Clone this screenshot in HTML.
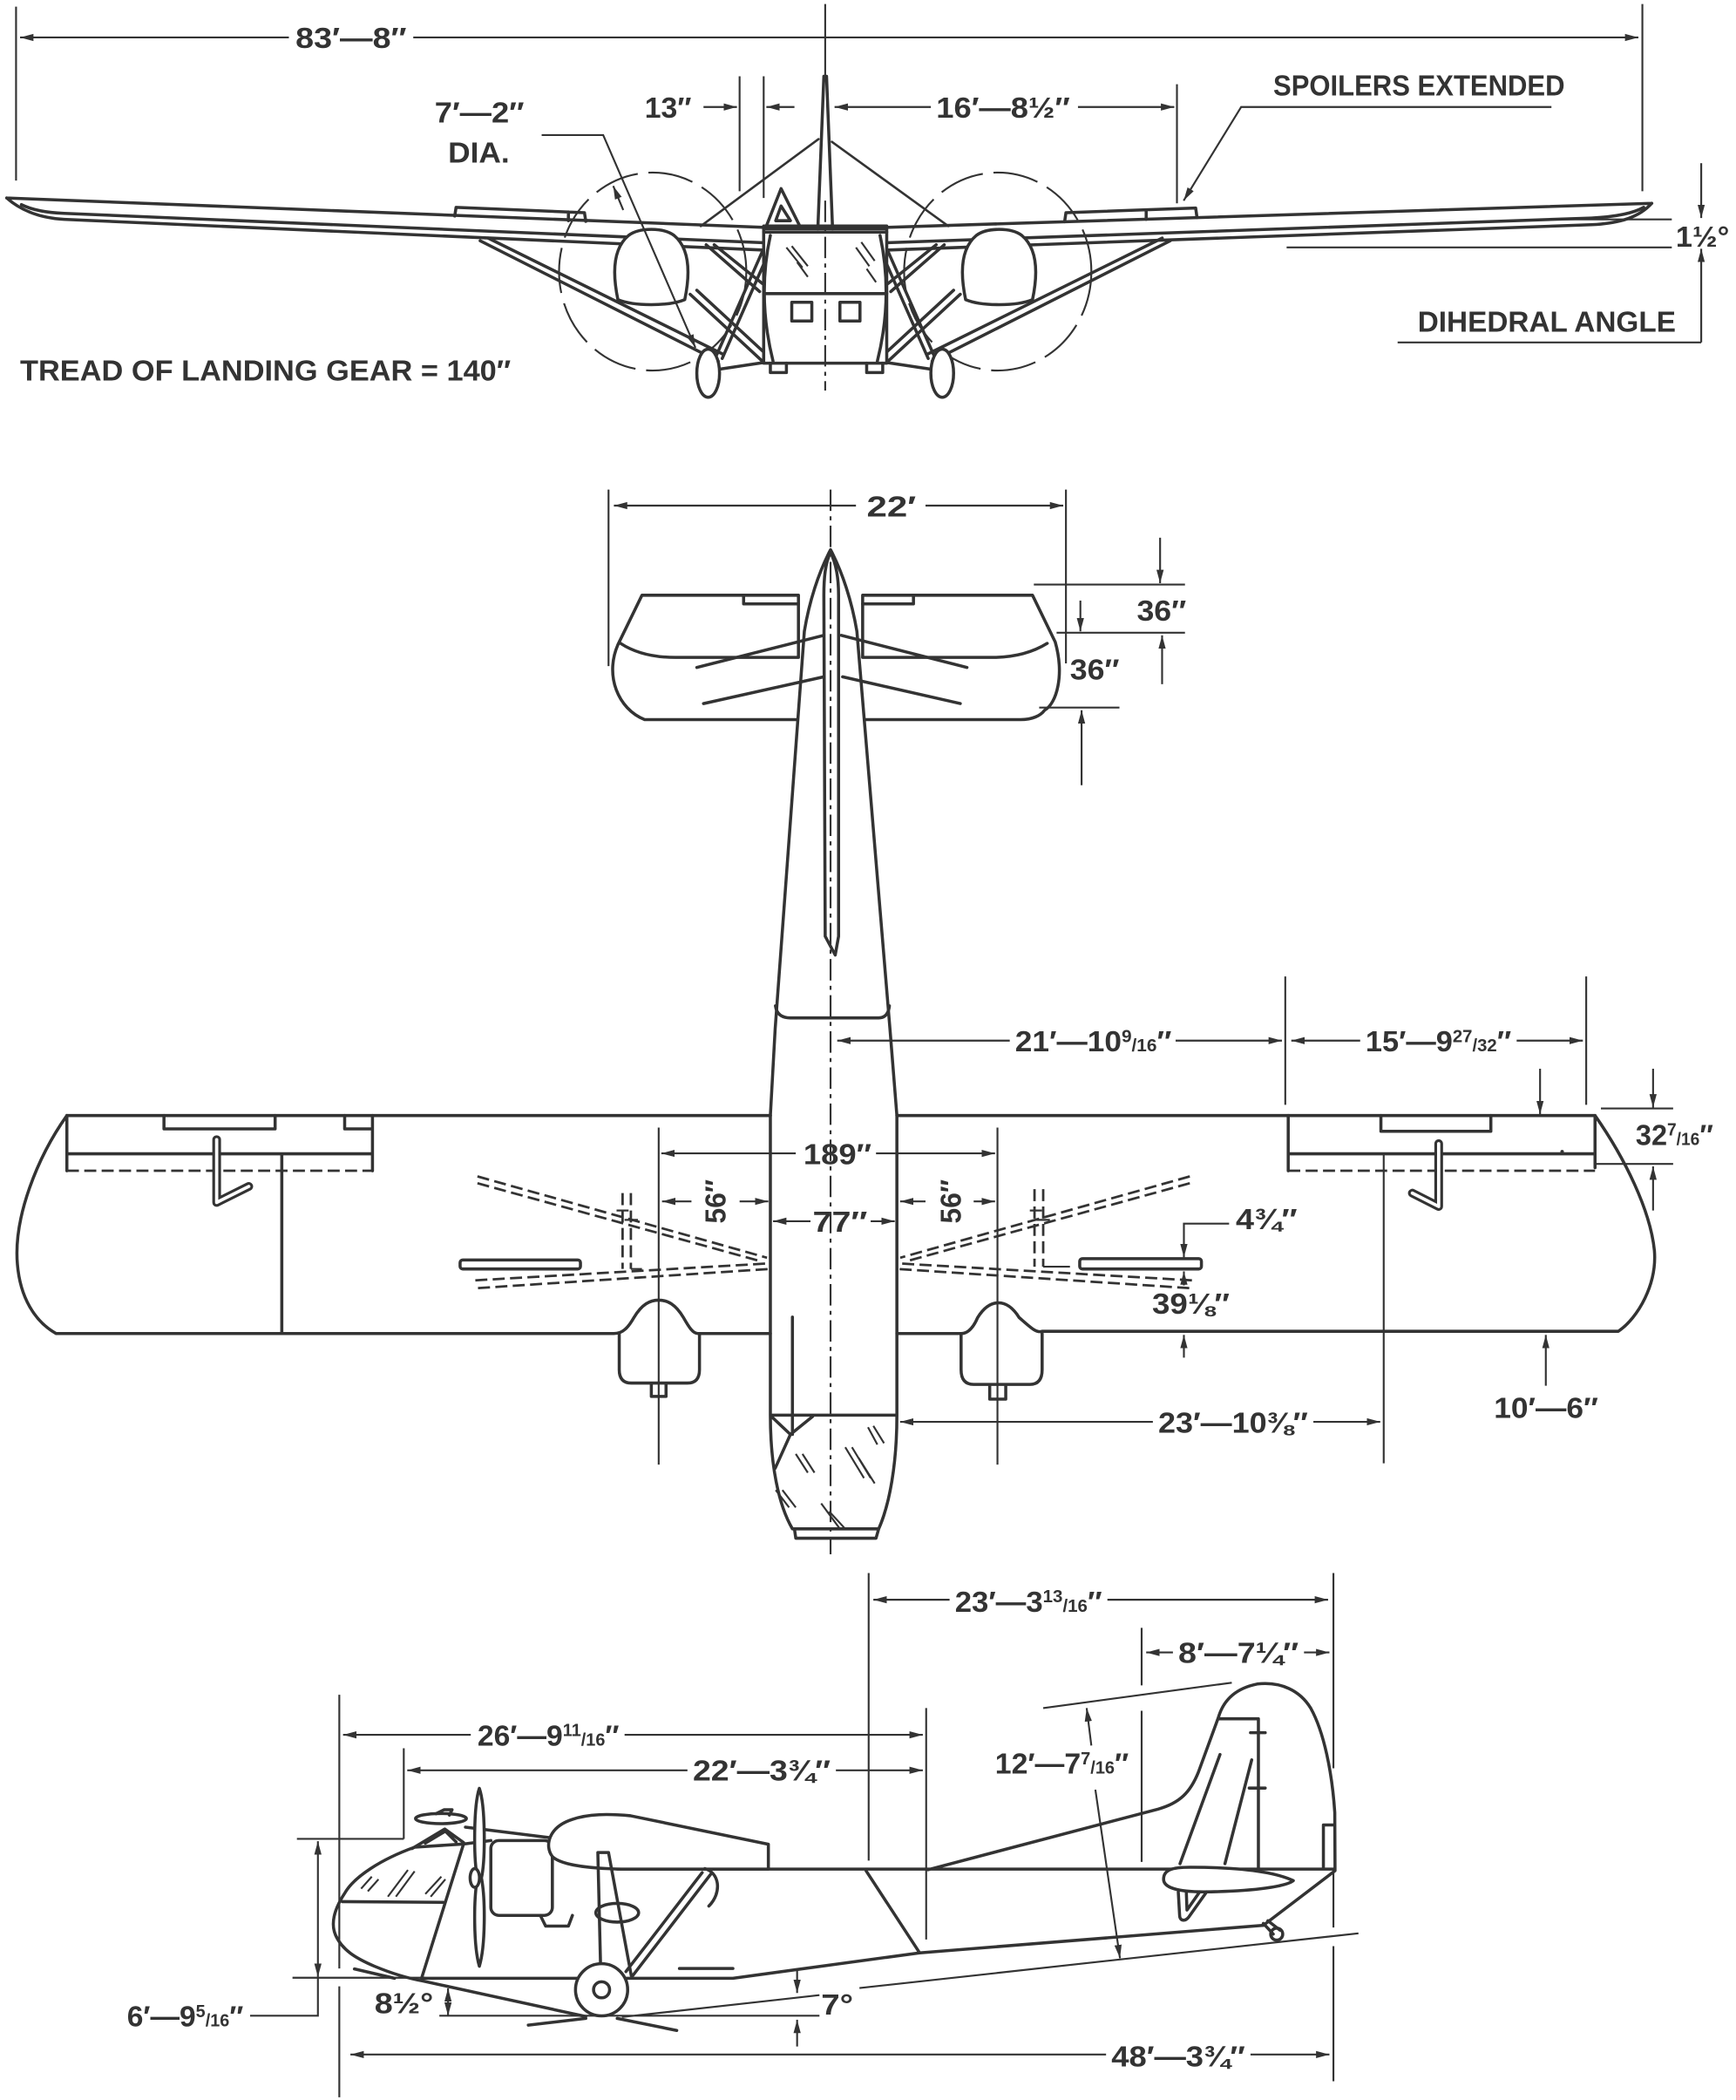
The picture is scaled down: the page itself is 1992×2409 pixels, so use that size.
<!DOCTYPE html>
<html>
<head>
<meta charset="utf-8">
<style>
html,body{margin:0;padding:0;background:#fff;}
svg{display:block;}
</style>
</head>
<body>
<svg xmlns="http://www.w3.org/2000/svg" width="1992" height="2409" viewBox="0 0 1298 1570" preserveAspectRatio="none">
<defs>
<marker id="a" markerUnits="userSpaceOnUse" markerWidth="10" markerHeight="6" viewBox="0 0 10 6" refX="10" refY="3" orient="auto">
<path d="M0,0.3 L10,3 L0,5.7 Z" fill="#333"/>
</marker>
<style>
.o{fill:none;stroke:#333;stroke-width:2.3;stroke-linecap:round;stroke-linejoin:round}
.w{fill:#fff;stroke:#333;stroke-width:2.3;stroke-linejoin:round}
.d{fill:none;stroke:#333;stroke-width:1.4}
.ar{fill:none;stroke:#333;stroke-width:1.4;marker-end:url(#a)}
.ds{fill:none;stroke:#333;stroke-width:1.8;stroke-dasharray:9 4}
.cl{fill:none;stroke:#333;stroke-width:1.4;stroke-dasharray:16 4 3 4}
.pc{fill:none;stroke:#333;stroke-width:1.4;stroke-dasharray:34 8}
.hk{fill:none;stroke:#333;stroke-width:6.5;stroke-linecap:round;stroke-linejoin:round}
.hw{fill:none;stroke:#fff;stroke-width:2.4;stroke-linecap:round;stroke-linejoin:round}
text{font-family:"Liberation Sans Narrow","Liberation Sans","DejaVu Sans",sans-serif;font-weight:bold;font-size:22px;fill:#333}
.f{font-size:13px}
</style>
</defs>

<!-- ================= FRONT VIEW ================= -->
<path class="d" d="M12,5V135M1228,3V143M617,3V58"/>
<path class="ar" d="M216,28H15"/>
<path class="ar" d="M309,28H1225"/>
<text x="221" y="36" textLength="83" lengthAdjust="spacingAndGlyphs">83′—8″</text>

<path class="d" d="M553,57V143M571,57V148"/>
<path class="ar" d="M526,80H551"/>
<path class="ar" d="M594,80H573"/>
<text x="482" y="88" textLength="35" lengthAdjust="spacingAndGlyphs">13″</text>

<path class="ar" d="M696,80H624"/>
<path class="ar" d="M806,80H878"/>
<path class="d" d="M880,63V152"/>
<text x="700" y="88" textLength="100" lengthAdjust="spacingAndGlyphs">16′—8½″</text>

<text x="952" y="71.5" textLength="218" lengthAdjust="spacingAndGlyphs">SPOILERS EXTENDED</text>
<path class="ar" d="M1160,80H928L885,150"/>

<text x="325" y="91.5" textLength="67" lengthAdjust="spacingAndGlyphs">7′—2″</text>
<text x="335" y="121.5" textLength="46" lengthAdjust="spacingAndGlyphs">DIA.</text>

<ellipse class="pc" cx="488" cy="203" rx="70" ry="74"/>
<ellipse class="pc" cx="746" cy="203" rx="70" ry="74"/>

<!-- wings front -->
<path class="o" d="M5,148L572,170M16,153C24,157 34,159 48,159.5L572,181.5M5,148C14,156 28,163 48,164L572,187"/>
<path class="o" d="M662,170L1235,152M662,181.5L1190,163C1210,162 1222,159 1229,155M662,187L1190,168C1212,167 1226,162 1235,152"/>
<path class="o" d="M340,161.5L341,155L437,159L438,165.5M425,158.5V165"/>
<path class="o" d="M796,165.8L797,159L894,155.5L895,162.7M857,157V164"/>

<!-- dihedral -->
<path class="d" d="M1160,164H1250M962,185H1250M1045,256H1272"/>
<path class="ar" d="M1272,122V163"/>
<path class="ar" d="M1272,256V186"/>
<text x="1253" y="184.5" textLength="40" lengthAdjust="spacingAndGlyphs">1½°</text>
<text x="1060" y="248" textLength="193" lengthAdjust="spacingAndGlyphs">DIHEDRAL ANGLE</text>

<!-- struts front -->
<path class="o" d="M365,178L541,265M359,180L537,270M516,220L570,270M521,217L573,265M570,188L536,265M573,193L540,268M528,183L568,218M534,183L570,212M538,276L571,271"/>
<path class="o" d="M869,178L693,265M875,180L697,270M718,220L664,270M713,217L661,265M664,188L698,265M661,193L694,268M706,183L666,218M700,183L664,212M696,276L663,271"/>

<!-- nacelles front -->
<path class="w" d="M462,224C458,205 458,186 470,176C478,170 496,170 504,176C516,186 516,205 512,224C500,229 474,229 462,224Z"/>
<path class="w" d="M772,224C776,205 776,186 764,176C756,170 738,170 730,176C718,186 718,205 722,224C734,229 760,229 772,224Z"/>

<!-- fuselage front -->
<path class="w" d="M571,171H663V271.5H571Z"/>
<path class="o" d="M571,169H663M571,173.5H663M571,219.5H663M576,176Q566,222 578,270M658,176Q668,222 656,270"/>
<rect class="o" x="592" y="226" width="15" height="14"/>
<rect class="o" x="628" y="226" width="15" height="14"/>
<path class="o" d="M576,271.5V278.5H588V271.5M648,271.5V278.5H660V271.5"/>
<path class="d" d="M588,185L600,200M592,184L604,199M596,196L604,207M644,181L654,195M640,185L650,199M648,201L655,211"/>
<path class="o" d="M573,169L584,141L598,169M580,165L584,154L591,165Z"/>
<path class="o" d="M611.5,171L616,57L618,57L622.5,171"/>
<path class="o" style="stroke-width:1.7" d="M612,104L524,169M622,106L709,169"/>
<path class="cl" d="M617,150V292"/>

<ellipse class="w" cx="529.5" cy="279" rx="8.5" ry="18"/>
<ellipse class="w" cx="704.5" cy="279" rx="8.5" ry="18"/>

<!-- 7'2 DIA leader -->
<path class="ar" d="M405,101H451L520,260"/>
<path class="ar" d="M466,157L458.5,139"/>

<text x="15" y="284.5" textLength="367" lengthAdjust="spacingAndGlyphs">TREAD OF LANDING GEAR = 140″</text>

<!-- ================= PLAN VIEW ================= -->
<path class="d" d="M455,366V498M797,366V496"/>
<path class="ar" d="M640,378H459"/>
<path class="ar" d="M692,378H795"/>
<text x="648" y="386" textLength="37" lengthAdjust="spacingAndGlyphs">22′</text>

<path class="cl" d="M621,366V1162"/>

<!-- stabilizer -->
<path class="o" d="M597,491V445H480L462,482C452,505 462,530 482,538H596"/>
<path class="o" d="M645,491V445H772L789,480C796,505 790,526 781,531C778,535 772,538 763,538H647"/>
<path class="o" d="M464,481Q480,491.5 505,491.5H597M783,481Q766,491.5 742,491.5H645"/>
<path class="o" d="M556,445V451.5H597M645,451.5H683V445"/>
<path class="o" d="M616,475L521,499M616,506L526,526M629,475L723,499M630,506L718,526"/>

<!-- 36 dims -->
<path class="d" d="M773,437H886M790,473H886M777,529H837"/>
<path class="ar" d="M867.4,402V436"/>
<path class="ar" d="M807.8,449V472"/>
<path class="ar" d="M868.9,511.5V475"/>
<path class="ar" d="M808.7,587V531"/>
<text x="850" y="464" textLength="37" lengthAdjust="spacingAndGlyphs">36″</text>
<text x="800" y="508" textLength="37" lengthAdjust="spacingAndGlyphs">36″</text>

<!-- boom -->
<path class="o" d="M621,411C612,428 605,450 601.4,472L579.6,769L576,834M621,411C630,428 637,450 640.7,472L665.4,769L670.6,834"/>
<path class="o" d="M579.8,752Q581,761 591,761H657Q664,761 665,752"/>
<path class="o" d="M621,413C617,421 616,432 616,445L617,700L624.5,714L627,700L627,445C627,432 625,421 621,413Z"/>

<!-- left wing plan -->
<path class="o" d="M50,834H576M50,834C28,865 10,910 13,945C15,970 26,988 42,997H459C466,997 470,992 474,985C480,975 486,972 492.5,972C499,972 505,975 511,985C515,992 518,997 522,997H576"/>
<path class="o" d="M50,834V875.3M50,862.6H278.5M278.5,834V875.3M122.6,834V844H205.7V834M257.7,834V844H278.5M210.7,862.6V997"/>
<path class="ds" d="M50,875.3H278.5"/>
<path class="hk" d="M162,852V899L186,887"/>
<path class="hw" d="M162,852V899L186,887"/>
<rect class="o" x="344" y="942" width="90" height="6.7" rx="2"/>
<path class="ds" d="M357,879.5L573.5,940.3M357,884.6L569.4,943.1M355.4,957.2L575.6,944.5M357.4,963L575.6,948.7M465.5,892V948.7M471.7,892V948.7"/>
<path class="d" d="M461,905H470M467,912H477M471.7,948.7H480"/>
<path class="o" d="M463,997V1024Q463,1034 472,1034H514Q523,1034 523,1024V997M487,1034V1044H498V1034"/>

<!-- right wing plan -->
<path class="o" d="M670.6,834H1192.6C1215,866 1234,905 1237,935C1239,960 1225,985 1210,995.3H779.2C775,997 770,992 762,985C757,977 752,974 746.5,974C741,974 736,977 731,985C728,992 724,997 718.6,997H670.6"/>
<path class="o" d="M963.2,834V875.3M963.2,862.6H1192.6M1192.6,834V873M1032.5,834V845.8H1114.7V834"/>
<path class="ds" d="M963.2,875.3H1192.6"/>
<circle cx="1168" cy="861" r="1.3" fill="#333"/>
<path class="hk" d="M1075.7,855V902L1056,892"/>
<path class="hw" d="M1075.7,855V902L1056,892"/>
<rect class="o" x="807.3" y="941" width="91" height="7.7" rx="2"/>
<path class="ds" d="M889.6,879.5L673.1,940.3M889.6,884.6L677.2,943.1M891.2,957.2L671,944.5M889.2,963L671,948.7M773.5,889V947M780,889V947"/>
<path class="d" d="M780,947H800M770,905H779M775,912H785"/>
<path class="o" d="M718.6,997V1024Q718.6,1035 728,1035H770Q779.2,1035 779.2,1024V997M740,1035V1046H752V1035"/>

<!-- ext lines plan -->
<path class="d" d="M492.5,843V1095M745.8,843V1095M1034.6,862.6V1094M961,730V826M1186,730V826"/>

<!-- fuselage plan -->
<path class="o" d="M576,834V1058C576,1095 582,1125 592.5,1143H657C665,1125 670.6,1095 670.6,1058V834M576,1058H670.6M594,1143L595,1150H655L657,1143M576.8,1059L591,1072.4L607.6,1059M591,1072.4L579.6,1097.7M592.5,984.7V1072.4"/>
<path class="d" d="M649,1067L656,1080M653,1066L661,1079M595,1087L604,1101M600,1087L609,1101M632,1082L646,1105M637,1082L651,1105M642,1090L654,1109M580,1114L590,1127M585,1114L595,1127M614,1124L628,1143M620,1130L632,1143"/>

<!-- plan dims -->
<path class="ar" d="M755,778H626"/>
<path class="ar" d="M879,778H958.5"/>
<text x="759" y="786" textLength="117" lengthAdjust="spacingAndGlyphs">21′—10<tspan class="f" dy="-7">9</tspan><tspan class="f" dy="7">/16</tspan>″</text>
<path class="ar" d="M1017,778H965.5"/>
<path class="ar" d="M1134,778H1183.5"/>
<text x="1021" y="786" textLength="109" lengthAdjust="spacingAndGlyphs">15′—9<tspan class="f" dy="-7">27</tspan><tspan class="f" dy="7">/32</tspan>″</text>

<path class="ar" d="M1151.5,799V833"/>
<path class="ar" d="M1236,799V828"/>
<path class="ar" d="M1236,905V872"/>
<path class="d" d="M1197,828.7H1251M1192.6,870.2H1251"/>
<text x="1223" y="856" textLength="58" lengthAdjust="spacingAndGlyphs">32<tspan class="f" dy="-7">7</tspan><tspan class="f" dy="7">/16</tspan>″</text>

<path class="ar" d="M595,862.3H494.5"/>
<path class="ar" d="M655,862.3H744"/>
<text x="600.7" y="870.3" textLength="51" lengthAdjust="spacingAndGlyphs">189″</text>

<path class="ar" d="M517,898.2H495"/>
<path class="ar" d="M553,898.2H574.5"/>
<path class="ar" d="M692,898.2H673"/>
<path class="ar" d="M728,898.2H744"/>
<text transform="translate(542.5,898.2) rotate(-90)" text-anchor="middle" textLength="33" lengthAdjust="spacingAndGlyphs">56″</text>
<text transform="translate(718.5,898.2) rotate(-90)" text-anchor="middle" textLength="33" lengthAdjust="spacingAndGlyphs">56″</text>

<path class="ar" d="M606,913H578"/>
<path class="ar" d="M651,913H669"/>
<text x="607.6" y="921" textLength="41" lengthAdjust="spacingAndGlyphs">77″</text>

<path class="ar" d="M919,914.8H885.2V940"/>
<text x="924" y="919" textLength="46" lengthAdjust="spacingAndGlyphs">4¾″</text>
<path class="ar" d="M885.2,961V950.5"/>
<path class="ar" d="M885.2,1015V998"/>
<text x="861.4" y="982" textLength="58" lengthAdjust="spacingAndGlyphs">39⅛″</text>

<path class="ar" d="M1155.8,1036V998"/>
<text x="1117" y="1060" textLength="78" lengthAdjust="spacingAndGlyphs">10′—6″</text>

<path class="ar" d="M862,1063H673"/>
<path class="ar" d="M982,1063H1032"/>
<text x="866" y="1071" textLength="112" lengthAdjust="spacingAndGlyphs">23′—10⅜″</text>

<!-- ================= SIDE VIEW ================= -->
<!-- dims -->
<path class="d" d="M649.5,1176V1391M997,1176V1322M997,1400V1441M997,1455V1556"/>
<path class="ar" d="M710,1196H653"/>
<path class="ar" d="M828,1196H993"/>
<text x="714" y="1205" textLength="110" lengthAdjust="spacingAndGlyphs">23′—3<tspan class="f" dy="-7">13</tspan><tspan class="f" dy="7">/16</tspan>″</text>

<path class="d" d="M853.6,1217V1260M853.6,1279V1392"/>
<path class="ar" d="M877,1235.4H857"/>
<path class="ar" d="M975,1235.4H994"/>
<text x="881" y="1243" textLength="90" lengthAdjust="spacingAndGlyphs">8′—7¼″</text>

<path class="d" d="M253.7,1267V1471.7M253.7,1485V1568M692.5,1277V1450"/>
<path class="ar" d="M352,1297H256.5"/>
<path class="ar" d="M467,1297H690"/>
<text x="357" y="1305" textLength="106" lengthAdjust="spacingAndGlyphs">26′—9<tspan class="f" dy="-7">11</tspan><tspan class="f" dy="7">/16</tspan>″</text>

<path class="d" d="M301.9,1307V1374.8M222,1374.8H301.9"/>
<path class="ar" d="M514,1323.5H304.5"/>
<path class="ar" d="M625,1323.5H690"/>
<text x="518" y="1331" textLength="103" lengthAdjust="spacingAndGlyphs">22′—3¾″</text>

<path class="ar" d="M237.7,1425V1376.5"/>
<path class="ar" d="M237.7,1425V1478"/>
<path class="d" d="M237.7,1478V1507H187M218.7,1478.6H318"/>
<text x="95" y="1515" textLength="87" lengthAdjust="spacingAndGlyphs">6′—9<tspan class="f" dy="-7">5</tspan><tspan class="f" dy="7">/16</tspan>″</text>

<path class="ar" d="M827,1536H262"/>
<path class="ar" d="M935,1536H994"/>
<text x="831" y="1545" textLength="100" lengthAdjust="spacingAndGlyphs">48′—3¾″</text>

<path class="d" d="M780,1277L921,1258"/>
<path class="ar" d="M816,1305L812.5,1277"/>
<path class="ar" d="M819,1338L837.4,1464"/>
<text x="744" y="1326" textLength="100" lengthAdjust="spacingAndGlyphs">12′—7<tspan class="f" dy="-7">7</tspan><tspan class="f" dy="7">/16</tspan>″</text>

<!-- ground / angles -->
<path class="d" d="M328.5,1507H612.7M465,1508L612.7,1491.6M642.6,1486.3L1015.7,1445.4"/>
<path class="o" d="M395,1514L438,1509M461.5,1509L506,1518"/>
<path class="ar" d="M335,1497V1486.5"/>
<path class="ar" d="M335,1497V1507"/>
<text x="280" y="1505" textLength="44" lengthAdjust="spacingAndGlyphs">8½°</text>
<path class="ar" d="M596,1473V1490"/>
<path class="ar" d="M596,1530V1510"/>
<text x="614" y="1506" textLength="24" lengthAdjust="spacingAndGlyphs">7°</text>

<!-- fuselage side -->
<path class="o" d="M461.5,1397.4H998.2M694,1397.8L866,1352.5C882,1348 890,1340 896,1325L911,1284C915,1270 925,1262 940,1259C958,1257 972,1264 980,1277C990,1295 996,1325 998,1355L998.2,1398.6L944.6,1439.4"/>
<path class="o" d="M316,1479H548L687.5,1460L944.6,1439.4"/>
<path class="o" d="M346.6,1378.6L310,1381C285,1390 265,1403 258,1415C250,1427 247,1438 251,1447C256,1458 266,1464 280,1470C292,1475 305,1479 316,1481L438,1507.6"/>
<path class="o" d="M265,1472L295,1479"/>
<path class="o" d="M256,1421.7L331.5,1422.2M346.6,1378.6L315.2,1479M346.6,1378.6L367,1376"/>
<path class="d" d="M270,1412L278,1403M275,1414L283,1405M290,1418L305,1398M296,1418L310,1399M318,1416L330,1403M322,1418L333,1405"/>
<path class="o" d="M508,1471.7H548M647.6,1398.7L687.5,1459.8"/>

<!-- tail -->
<path class="o" d="M911,1285H940.9V1397.8M935,1295.4H946M934,1336.8H946M912.2,1311.7L882.3,1393.3M935.9,1315.7L915.9,1393.3M989.5,1396V1364.4H997"/>
<path class="w" d="M870,1405C870,1398 876,1396 890,1396C920,1396 950,1398 967,1406C962,1410 940,1414 900,1414.4C880,1414.4 870,1411 870,1405Z"/>
<path class="o" d="M881,1414.4L882,1432C882,1436 886,1437 889,1433L902.2,1414.4M887,1414.4L887.5,1428L897,1414.4"/>
<circle class="w" cx="954.6" cy="1446" r="4.5"/>
<path class="o" d="M944.6,1438L952,1446M948,1436L957,1443"/>

<!-- engine, prop, pod -->
<rect class="w" x="367" y="1376" width="46" height="56" rx="6"/>
<path class="o" d="M404,1432L408,1440H425L428,1432"/>
<path class="o" d="M348,1366L412,1374"/>
<path class="w" d="M464.8,1397.4C445,1397 420,1395 413,1388C407,1380 410,1366 428,1360.2C440,1356 455,1356 471.4,1357.5L574.5,1378.8V1397.4Z"/>
<path class="o" d="M527,1397C538,1400 540,1415 530,1425"/>
<path class="w" d="M358.4,1337C363,1350 363,1390 360,1404C363,1420 363,1455 358.4,1470C354,1455 354,1420 357,1404C354,1390 354,1350 358.4,1337Z"/>
<ellipse class="w" cx="355" cy="1404" rx="3.5" ry="7"/>
<ellipse class="o" cx="329.7" cy="1359.6" rx="19" ry="3.8"/>
<path class="o" d="M326,1356L332,1353H338L336,1357"/>
<path class="o" d="M308.2,1382L332.6,1367.4L346.6,1377.5M318,1378L333,1369L341,1377"/>

<!-- landing gear side -->
<ellipse class="w" cx="461.5" cy="1430" rx="16" ry="7"/>
<path class="o" d="M447,1385L449,1468M455,1385L472,1477M447,1385H455M531.3,1401.3L473.1,1477M525,1400L468,1474"/>
<circle class="w" cx="449.8" cy="1487.6" r="19.5"/>
<circle class="o" cx="449.8" cy="1487.6" r="6"/>

</svg>
</body>
</html>
